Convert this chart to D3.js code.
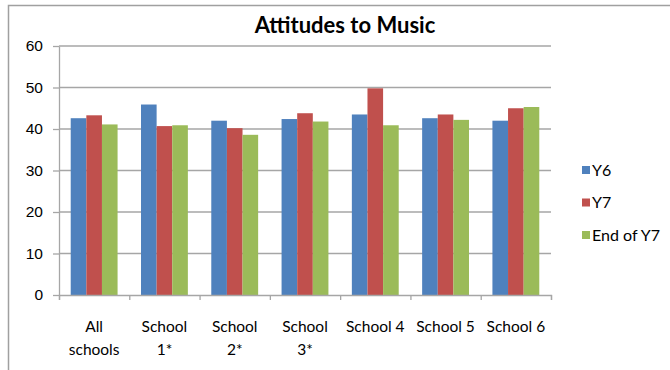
<!DOCTYPE html>
<html lang="en">
<head>
<meta charset="utf-8">
<title>Attitudes to Music</title>
<script src="https://d3js.org/d3.v7.min.js"></script>
<style>
body { margin: 0; background: #fff; }
svg { font-family: Lato, "Open Sans", sans-serif; }
.grid line { stroke: #a6a6a6; stroke-width: 1.3px; }
.axis path, .axis line { stroke: #a6a6a6; stroke-width: 1.3px; }
.axis text { font-size: 15.5px; fill: #000; }
</style>
</head>
<body>
<script>

var categories = [["All", "schools"], ["School", "1*"], ["School", "2*"], ["School", "3*"],
                  ["School 4"], ["School 5"], ["School 6"]];
var seriesNames = ["Y6", "Y7", "End of Y7"];
var y6     = [42.6, 45.9, 42.0, 42.4, 43.5, 42.6, 42.0];
var y7     = [43.3, 40.7, 40.2, 43.8, 49.8, 43.5, 45.0];
var endY7  = [41.1, 40.9, 38.6, 41.8, 40.9, 42.2, 45.3];
var yTicks = [0, 10, 20, 30, 40, 50, 60];
var colors = ["#4f81bd", "#c0504d", "#9bbb59"];

var series = [y6, y7, endY7];

var width = 670, height = 370;
var margin = { top: 46, right: 119, bottom: 75, left: 59 };
var w = width - margin.left - margin.right,
    h = height - margin.top - margin.bottom;

var svg = d3.select("body").append("svg")
    .attr("width", width)
    .attr("height", height);

// chart border
svg.append("path")
    .attr("d", "M8.5," + height + "V5.5H" + width)
    .attr("fill", "none")
    .attr("stroke", "#a0a0a0")
    .attr("stroke-width", 1.5);

svg.append("text")
    .attr("x", 345)
    .attr("y", 33)
    .attr("text-anchor", "middle")
    .style("font-size", "22px")
    .style("font-weight", "bold")
    .text("Attitudes to Music");

var g = svg.append("g")
    .attr("transform", "translate(" + margin.left + "," + margin.top + ")");

var x0 = d3.scaleBand()
    .domain(d3.range(categories.length))
    .range([0, w])
    .paddingInner(0.3333)
    .paddingOuter(0.1667);

var x1 = d3.scaleBand()
    .domain(d3.range(series.length))
    .range([0, x0.bandwidth()]);

var y = d3.scaleLinear()
    .domain([0, 60])
    .range([h, 0]);

g.append("g")
    .attr("class", "grid")
  .selectAll("line")
  .data(yTicks.slice(1))
  .enter().append("line")
    .attr("x1", 0)
    .attr("x2", w)
    .attr("y1", function(d) { return y(d); })
    .attr("y2", function(d) { return y(d); });

var groups = g.selectAll(".group")
  .data(categories)
  .enter().append("g")
    .attr("class", "group")
    .attr("transform", function(d, i) { return "translate(" + x0(i) + ",0)"; });

groups.selectAll("rect")
  .data(function(d, i) { return series.map(function(s, j) { return { s: j, v: s[i] }; }); })
  .enter().append("rect")
    .attr("x", function(d) { return x1(d.s); })
    .attr("width", x1.bandwidth())
    .attr("y", function(d) { return y(d.v); })
    .attr("height", function(d) { return h - y(d.v); })
    .attr("fill", function(d) { return colors[d.s]; });

// y axis
var yAxis = g.append("g")
    .attr("class", "axis")
    .call(d3.axisLeft(y).tickValues(yTicks).tickSize(6).tickPadding(10).tickSizeOuter(0));
yAxis.selectAll("text").style("font-size", "15.5px");

// x axis: ticks at category boundaries
var xb = d3.scaleLinear().domain([0, categories.length]).range([0, w]);
g.append("g")
    .attr("class", "axis")
    .attr("transform", "translate(0," + h + ")")
    .call(d3.axisBottom(xb).ticks(categories.length).tickSize(5).tickFormat("").tickSizeOuter(5));

var labels = g.append("g")
    .attr("class", "axis")
    .attr("transform", "translate(0," + h + ")");

labels.selectAll("text")
  .data(categories)
  .enter().append("text")
    .attr("x", function(d, i) { return x0(i) + x0.bandwidth() / 2; })
    .attr("y", 37)
    .attr("text-anchor", "middle")
  .selectAll("tspan")
  .data(function(d) { return d; })
  .enter().append("tspan")
    .attr("x", function() { return d3.select(this.parentNode).attr("x"); })
    .attr("dy", function(d, i) { return i === 0 ? 0 : 23; })
    .text(function(d) { return d; });

// legend
var legend = svg.append("g")
    .attr("transform", "translate(582,170)");

var items = legend.selectAll("g")
  .data(seriesNames)
  .enter().append("g")
    .attr("transform", function(d, i) { return "translate(0," + (i * 32.5) + ")"; });

items.append("rect")
    .attr("x", 0)
    .attr("y", -4)
    .attr("width", 8)
    .attr("height", 8)
    .attr("fill", function(d, i) { return colors[i]; });

items.append("text")
    .attr("x", 10)
    .attr("dy", "0.35em")
    .style("font-size", "16px")
    .text(function(d) { return d; });

</script>
</body>
</html>
